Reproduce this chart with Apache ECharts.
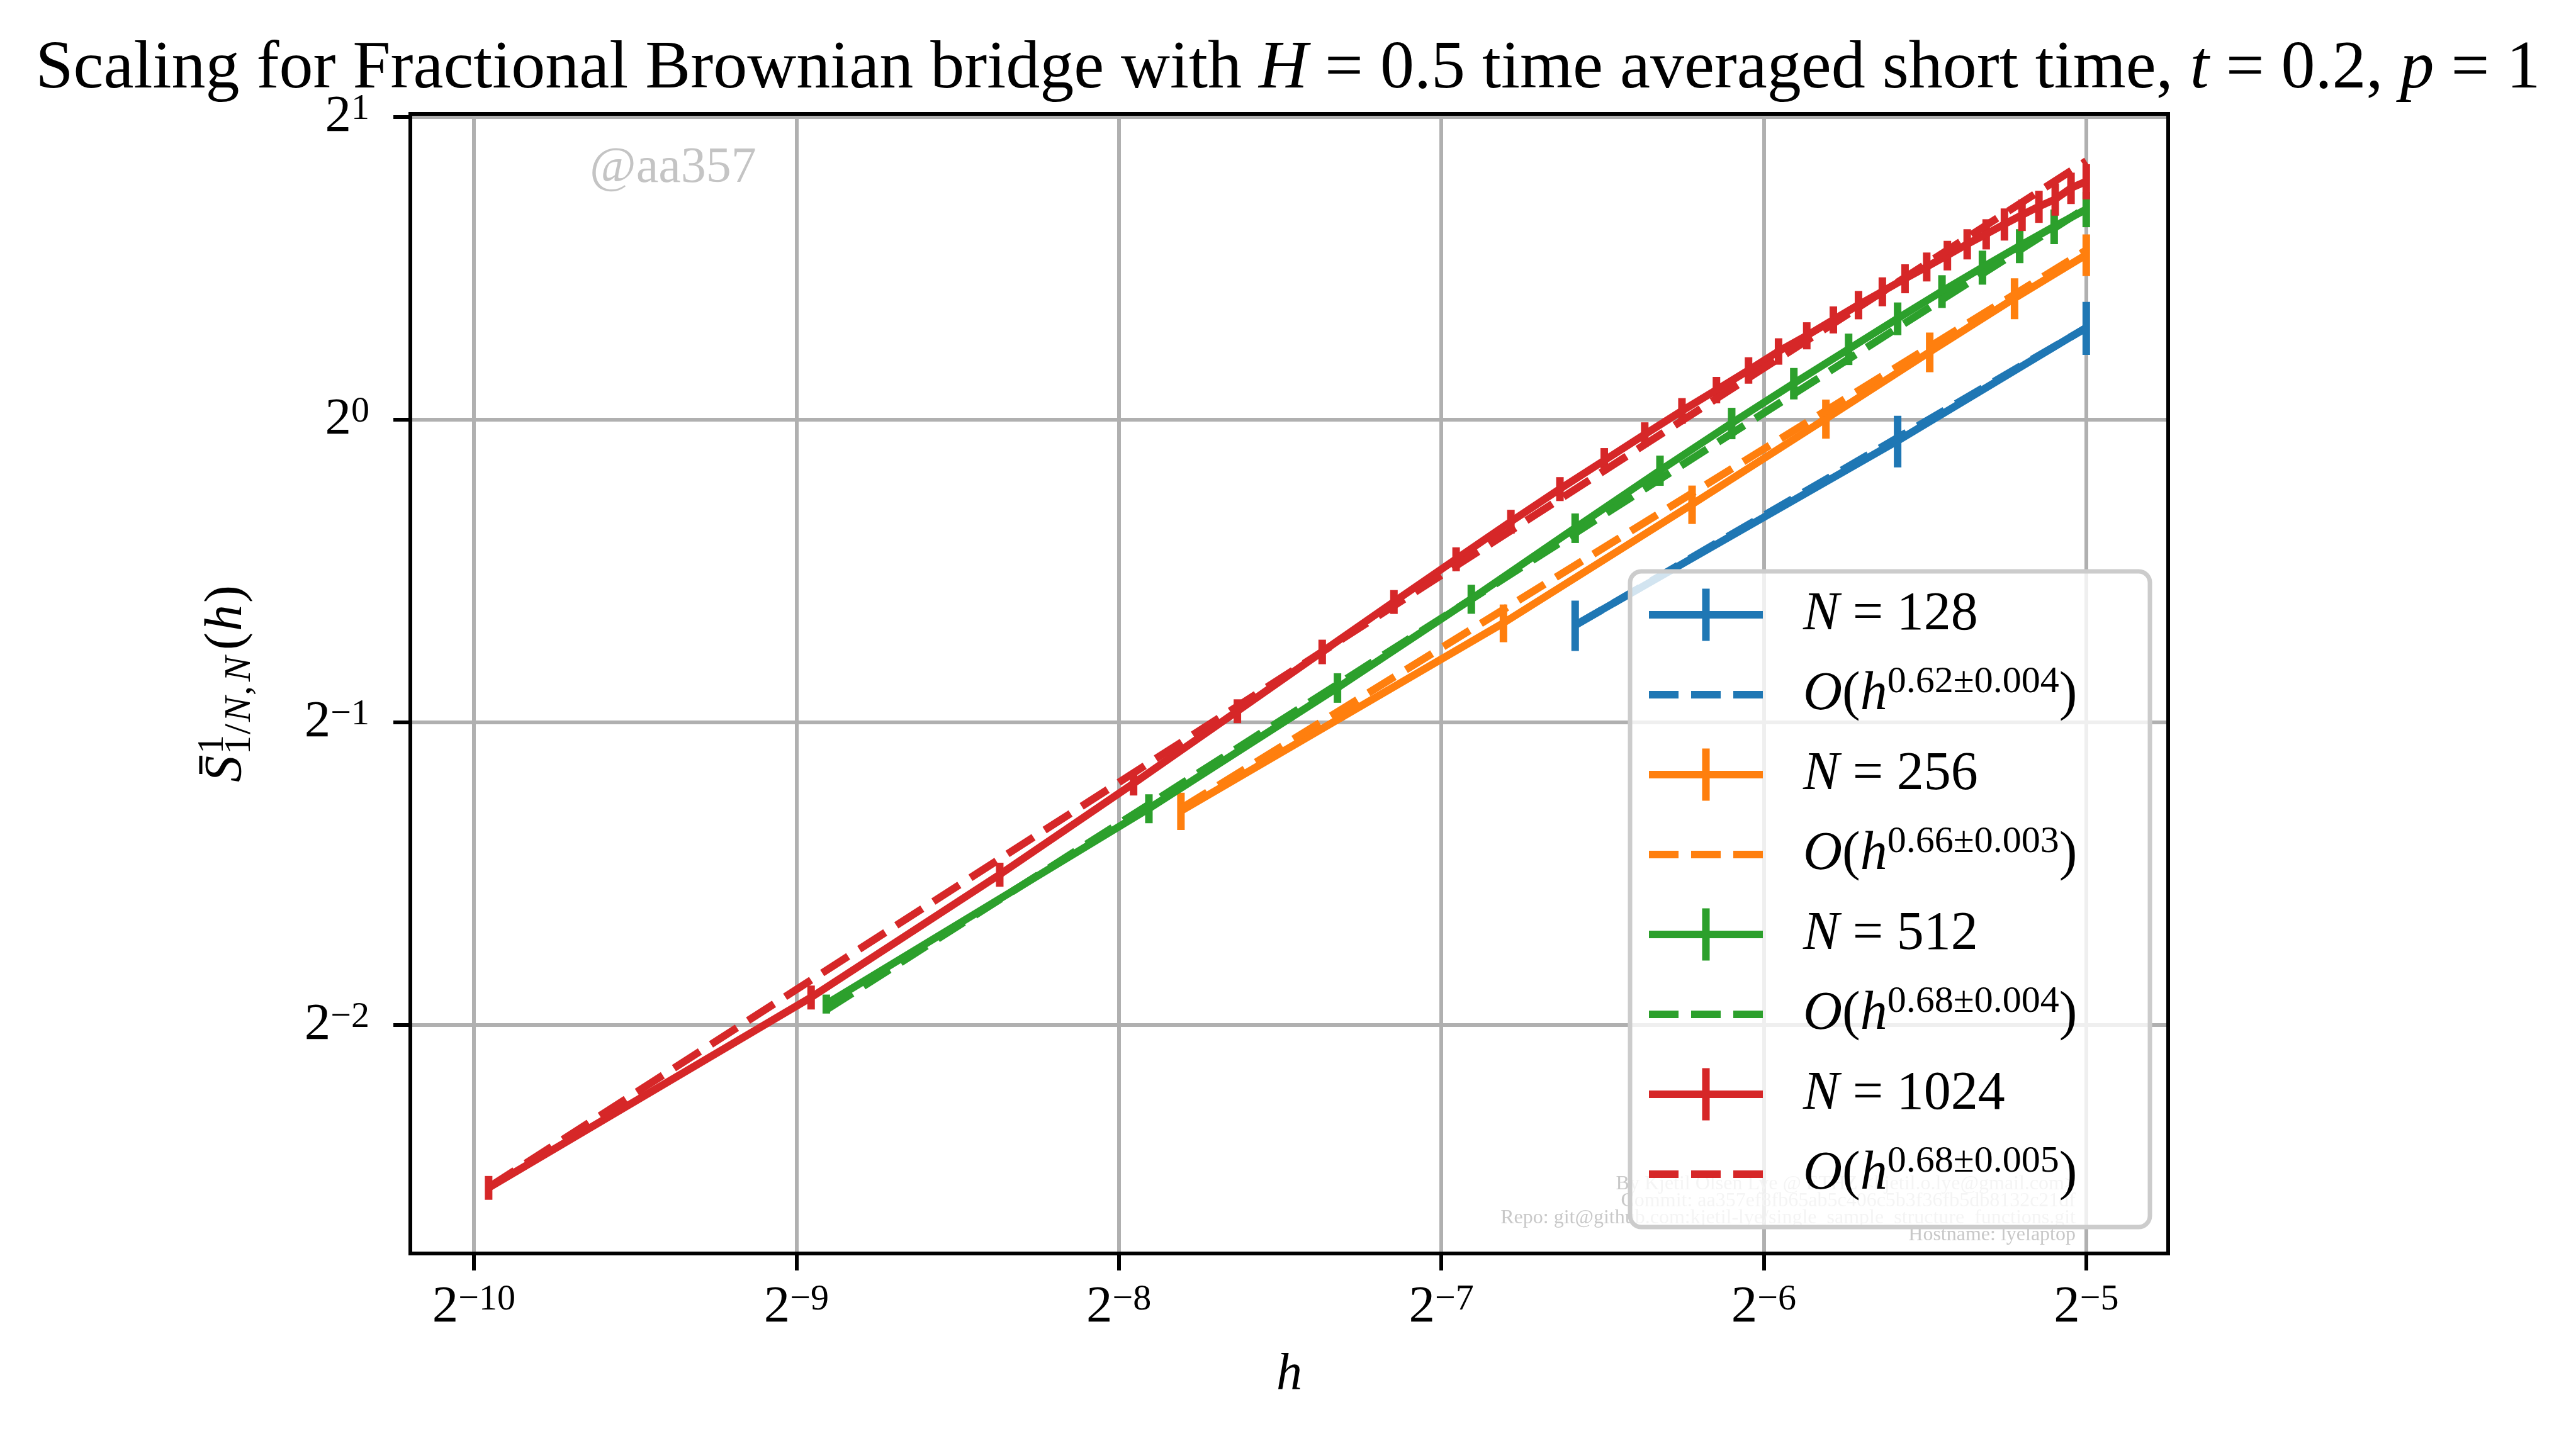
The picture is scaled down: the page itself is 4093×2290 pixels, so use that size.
<!DOCTYPE html>
<html>
<head>
<meta charset="utf-8">
<title>Scaling for Fractional Brownian bridge</title>
<script src="https://cdn.jsdelivr.net/npm/echarts@6.0.0/dist/echarts.min.js"></script>
<style>
  html, body { margin: 0; padding: 0; background: #fff; }
  #chart { width: 4093px; height: 2290px; }
</style>
</head>
<body>
<div id="chart"></div>
<script>
// values (h on x, S on y, both log base 2)
const xRange = [0.00085192, 0.037266];
const yRange = [0.14813, 2.01391];
const xTickExp = [-10, -9, -8, -7, -6, -5];
const yTickExp = [-2, -1, 0, 1];

const h128 = [0.010417, 0.020833, 0.03125];
const s128 = [0.6246, 0.9526, 1.2346];
const e128 = [0.0360, 0.0563, 0.0747];
const fitH128 = [0.010417, 0.03125];
const fitS128 = [0.6242, 1.2337];

const h256 = [0.004464, 0.008929, 0.013393, 0.017857, 0.022321, 0.026786, 0.03125];
const s256 = [0.4081, 0.6277, 0.8236, 1.0021, 1.1676, 1.3204, 1.4587];
const e256 = [0.0174, 0.0271, 0.0362, 0.0448, 0.0530, 0.0618, 0.0694];
const fitH256 = [0.004464, 0.03125];
const fitS256 = [0.4104, 1.4743];

const h512 = [0.002083, 0.004167, 0.00625, 0.008333, 0.010417, 0.0125, 0.014583, 0.016667,
  0.01875, 0.020833, 0.022917, 0.025, 0.027083, 0.029167, 0.03125];
const s512 = [0.2623, 0.4104, 0.5411, 0.6630, 0.7802, 0.8901, 0.9917, 1.0864,
  1.1753, 1.2605, 1.3416, 1.4172, 1.4887, 1.5562, 1.6189];
const e512 = [0.0057, 0.0136, 0.0183, 0.0220, 0.0264, 0.0308, 0.0357, 0.0391,
  0.0423, 0.0472, 0.0503, 0.0551, 0.0579, 0.0617, 0.0653];
const fitH512 = [0.002083, 0.03125];
const fitS512 = [0.2588, 1.6245];

const h1024 = [0.001008, 0.002016, 0.003024, 0.004032, 0.00504, 0.006048, 0.007056, 0.008065,
  0.009073, 0.010081, 0.011089, 0.012097, 0.013105, 0.014113, 0.015121, 0.016129,
  0.017137, 0.018145, 0.019153, 0.020161, 0.021169, 0.022177, 0.023185, 0.024194,
  0.025202, 0.02621, 0.027218, 0.028226, 0.029234, 0.030242, 0.03125];
const s1024 = [0.1722, 0.2663, 0.3528, 0.4347, 0.5130, 0.5876, 0.6588, 0.7265,
  0.7917, 0.8532, 0.9107, 0.9666, 1.0203, 1.0703, 1.1196, 1.1693,
  1.2121, 1.2570, 1.3004, 1.3407, 1.3813, 1.4191, 1.4566, 1.4948,
  1.5294, 1.5643, 1.5977, 1.6290, 1.6564, 1.6993, 1.7254];
const e1024 = [0.0047, 0.0073, 0.0097, 0.0119, 0.0140, 0.0165, 0.0180, 0.0199,
  0.0217, 0.0234, 0.0262, 0.0272, 0.0301, 0.0324, 0.0339, 0.0354,
  0.0376, 0.0389, 0.0422, 0.0444, 0.0458, 0.0470, 0.0493, 0.0517,
  0.0529, 0.0575, 0.0576, 0.0599, 0.0612, 0.0610, 0.0695];
const fitH1024 = [0.001008, 0.03125];
const fitS1024 = [0.1724, 1.8080];

const runs = [
  { n: '128', exp: '0.62±0.004', color: '#1f77b4', h: h128, s: s128, e: e128, fh: fitH128, fs: fitS128 },
  { n: '256', exp: '0.66±0.003', color: '#ff7f0e', h: h256, s: s256, e: e256, fh: fitH256, fs: fitS256 },
  { n: '512', exp: '0.68±0.004', color: '#2ca02c', h: h512, s: s512, e: e512, fh: fitH512, fs: fitS512 },
  { n: '1024', exp: '0.68±0.005', color: '#d62728', h: h1024, s: s1024, e: e1024, fh: fitH1024, fs: fitS1024 }
];

const FONT = '"Liberation Serif", "DejaVu Serif", serif';
const LW = 12;

// grid box in pixels
const G = { left: 652, top: 181, width: 2793, height: 1811 };

function errRender(color) {
  return function (params, api) {
    const x = api.value(0), y = api.value(1), e = api.value(2);
    const a = api.coord([x, y - e]);
    const b = api.coord([x, y + e]);
    return {
      type: 'line',
      shape: { x1: a[0], y1: a[1], x2: b[0], y2: b[1] },
      style: { stroke: color, lineWidth: LW }
    };
  };
}

const series = [];
const legendData = [];
const legendText = {};
const ERR_ICON = 'path://M0,35.5h181v12h-181z M84.5,0h12v83h-12z';
const DASH_ICON = 'path://M0,0h47v12h-47z M67,0h47v12h-47z M134,0h47v12h-47z';

runs.forEach(function (r) {
  const nName = 'N = ' + r.n;
  const fName = 'fit ' + r.n;
  series.push({
    name: nName, type: 'line', symbol: 'none', showSymbol: false,
    data: r.h.map(function (x, i) { return [x, r.s[i]]; }),
    lineStyle: { color: r.color, width: LW, join: 'round' },
    itemStyle: { color: r.color }
  });
  series.push({
    name: nName, type: 'custom', renderItem: errRender(r.color),
    data: r.h.map(function (x, i) { return [x, r.s[i], r.e[i]]; }),
    itemStyle: { color: r.color }
  });
  series.push({
    name: fName, type: 'line', symbol: 'none', showSymbol: false,
    data: r.fh.map(function (x, i) { return [x, r.fs[i]]; }),
    lineStyle: { color: r.color, width: LW, type: [49, 21] },
    itemStyle: { color: r.color }
  });
  legendData.push({ name: nName, icon: ERR_ICON, itemStyle: { color: r.color, borderWidth: 0 } });
  legendData.push({ name: fName, icon: DASH_ICON, itemStyle: { color: r.color, borderWidth: 0 } });
  legendText[nName] = '{i|N}{t| = ' + r.n + '}';
  legendText[fName] = '{i|O}{t|(}{i|h}{s|' + r.exp + '}{t|)}';
});

function powLabel(v) {
  const s = v < 0 ? '\u2212' + Math.abs(v) : String(v);
  return '{b|2}{s|' + s + '}';
}
const tickRich = {
  b: { fontFamily: FONT, fontSize: 83, lineHeight: 83, color: '#000' },
  s: { fontFamily: FONT, fontSize: 58, lineHeight: 38, verticalAlign: 'top', color: '#000' }
};
const gridLine = { show: true, lineStyle: { color: '#b0b0b0', width: 6 } };
const tickStyle = { show: true, length: 27, lineStyle: { color: '#000', width: 6 } };

// pieces of the y axis label, laid out along the (rotated) text line
const yLabelStart = 1243;
const MAIN = 84, SCRIPT = 60;
const yLabelParts = [
  { t: 'S', x: 0, size: MAIN, italic: true, shift: 0 },
  { t: '1', x: 45, size: SCRIPT, italic: false, shift: -31 },
  { t: '1', x: 44, size: SCRIPT, italic: false, shift: 12 },
  { t: '/', x: 76, size: SCRIPT, italic: false, shift: 12 },
  { t: 'N', x: 96, size: SCRIPT, italic: true, shift: 12 },
  { t: ',', x: 138, size: SCRIPT, italic: false, shift: 12 },
  { t: 'N', x: 160, size: SCRIPT, italic: true, shift: 12 },
  { t: '(', x: 210, size: MAIN, italic: false, shift: 0 },
  { t: 'h', x: 240, size: MAIN, italic: true, shift: 0 },
  { t: ')', x: 285, size: MAIN, italic: false, shift: 0 }
];
const yLabelChildren = yLabelParts.map(function (p) {
  return {
    type: 'text',
    style: {
      text: p.t, x: p.x, y: p.shift - 0.3375 * p.size,
      font: (p.italic ? 'italic ' : '') + p.size + 'px ' + FONT,
      fill: '#000', verticalAlign: 'middle', textVerticalAlign: 'middle'
    }
  };
});
yLabelChildren.push({ type: 'line', shape: { x1: 13, y1: -70, x2: 42, y2: -70 }, style: { stroke: '#000', lineWidth: 5 } });

const chart = echarts.init(document.getElementById('chart'), null, { renderer: 'canvas' });

const option = {
  animation: false,
  backgroundColor: '#fff',
  title: {
    left: 'center', top: 57, padding: 0,
    text: '{t|Scaling for Fractional Brownian bridge with }{i|H}{t| = 0.5 time averaged short time, }{i|t}{t| = 0.2, }{i|p}{t| = 1}',
    textStyle: {
      fontWeight: 'normal',
      rich: {
        t: { fontFamily: FONT, fontSize: 108, lineHeight: 108, fontWeight: 'normal', color: '#000' },
        i: { fontFamily: FONT, fontSize: 108, lineHeight: 108, fontWeight: 'normal', fontStyle: 'italic', color: '#000' }
      }
    }
  },
  grid: { left: G.left, top: G.top, width: G.width, height: G.height, containLabel: false },
  xAxis: [
    { type: 'log', logBase: 2, min: xRange[0], max: xRange[1], show: false },
    {
      type: 'value', position: 'bottom',
      min: Math.log2(xRange[0]), max: Math.log2(xRange[1]), minInterval: 1, maxInterval: 1,
      axisLine: { show: false },
      axisTick: Object.assign({ customValues: xTickExp }, tickStyle),
      axisLabel: { customValues: xTickExp, margin: 45, formatter: powLabel, rich: tickRich },
      splitLine: gridLine,
      name: 'h', nameLocation: 'middle', nameGap: 152,
      nameTextStyle: { fontFamily: FONT, fontSize: 82, lineHeight: 82, fontStyle: 'italic', color: '#000' }
    }
  ],
  yAxis: [
    { type: 'log', logBase: 2, min: yRange[0], max: yRange[1], show: false },
    {
      type: 'value', position: 'left',
      min: Math.log2(yRange[0]), max: Math.log2(yRange[1]), minInterval: 1, maxInterval: 1,
      axisLine: { show: false },
      axisTick: Object.assign({ customValues: yTickExp }, tickStyle),
      axisLabel: { customValues: yTickExp, margin: 65, formatter: powLabel, rich: tickRich },
      splitLine: gridLine
    }
  ],
  legend: {
    orient: 'vertical', left: 2590, top: 908,
    padding: [19, 20, 34, 30],
    itemWidth: 181, itemHeight: 83, itemGap: 27,
    backgroundColor: 'rgba(255,255,255,0.8)',
    borderColor: '#cccccc', borderWidth: 7, borderRadius: 18,
    itemStyle: { borderWidth: 0 },
    selectedMode: false,
    data: legendData,
    formatter: function (name) { return legendText[name]; },
    textStyle: {
      color: '#000', fontFamily: FONT, fontSize: 86, lineHeight: 100,
      padding: [0, 0, 0, 59], width: 531,
      rich: {
        i: { fontFamily: FONT, fontSize: 86, lineHeight: 100, fontStyle: 'italic', color: '#000' },
        t: { fontFamily: FONT, fontSize: 86, lineHeight: 100, color: '#000' },
        s: { fontFamily: FONT, fontSize: 60, lineHeight: 60, verticalAlign: 'top', color: '#000' }
      }
    }
  },
  graphic: [
    {
      type: 'text', left: 937, top: 228, z: 1, silent: true,
      style: { text: '@aa357', font: '80px ' + FONT, fill: '#c4c4c4' }
    },
    {
      type: 'text', right: 795, top: 1866, z: 1, silent: true,
      style: {
        text: 'By Kjetil Olsen Lye @ ETHZ <kjetil.o.lye@gmail.com>\n' +
              'Commit: aa357ef8fb65ab5c406c5b3f36fb5db8132c21df\n' +
              'Repo: git@github.com:kjetil-lye/single_sample_structure_functions.git\n' +
              'Hostname: lyelaptop',
        font: '32px ' + FONT, fill: '#c8c8c8', align: 'right', textAlign: 'right', lineHeight: 27
      }
    },
    {
      // y axis label, drawn bottom-to-top
      type: 'group', x: 389, y: yLabelStart, rotation: Math.PI / 2, silent: true,
      children: yLabelChildren
    },
    {
      // axes frame, drawn over the curves like matplotlib spines
      type: 'rect', z: 50, silent: true,
      shape: { x: G.left, y: G.top, width: G.width, height: G.height },
      style: { fill: 'none', stroke: '#000', lineWidth: 6 }
    }
  ],
  series: series
};

chart.setOption(option);
</script>
</body>
</html>
